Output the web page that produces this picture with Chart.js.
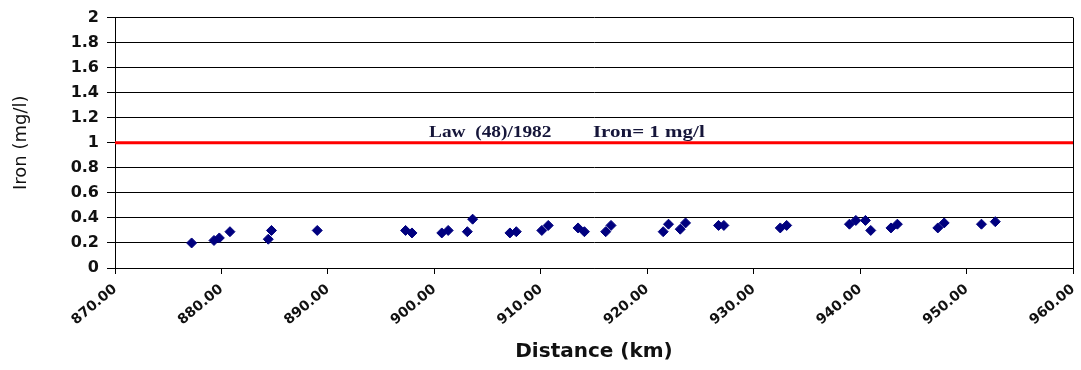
<!DOCTYPE html>
<html>
<head>
<meta charset="utf-8">
<script src="https://cdn.jsdelivr.net/npm/chart.js@4.4.1/dist/chart.umd.min.js"></script>
<style>
html,body{margin:0;padding:0;background:#fff;}
#wrap{width:1081px;height:370px;}
</style>
</head>
<body>
<div id="wrap"><canvas id="c" width="1081" height="370"></canvas></div>
<script>
// Data
const distanceKm = [877.2, 879.3, 879.8, 880.8, 884.4, 884.7, 889.0,
  897.3, 897.9, 900.7, 901.3, 903.1, 903.6, 907.1, 907.7, 910.1, 910.7,
  913.5, 914.1, 916.1, 916.6, 921.5, 922.0, 923.1, 923.6, 926.7, 927.2,
  932.5, 933.1, 939.0, 939.6, 940.5, 941.0, 942.9, 943.5, 947.3, 947.9,
  951.4, 952.7];
const ironMgL = [0.20, 0.22, 0.24, 0.29, 0.23, 0.30, 0.30,
  0.30, 0.28, 0.28, 0.30, 0.29, 0.39, 0.28, 0.29, 0.30, 0.34,
  0.32, 0.29, 0.29, 0.34, 0.29, 0.35, 0.31, 0.36, 0.34, 0.34,
  0.32, 0.34, 0.35, 0.38, 0.38, 0.30, 0.32, 0.35, 0.32, 0.36,
  0.35, 0.37];
const limitX = [870, 960];
const limitIron = 1;
const limitLabelLeft = "Law  (48)/1982";
const limitLabelRight = "Iron= 1 mg/l";
const xMin = 870, xMax = 960, xStep = 10;
const yMin = 0, yMax = 2, yStep = 0.2;

const points = distanceKm.map((d, i) => ({x: d, y: ironMgL[i]}));
const limitLine = limitX.map(x => ({x: x, y: limitIron}));

const extras = {
  id: 'extras',
  afterDatasetsDraw(chart) {
    const {ctx, chartArea, scales} = chart;
    ctx.save();
    // right border
    ctx.strokeStyle = '#000';
    ctx.lineWidth = 1;
    ctx.beginPath();
    ctx.moveTo(Math.round(chartArea.right) + 0.5, chartArea.top);
    ctx.lineTo(Math.round(chartArea.right) + 0.5, chartArea.bottom);
    ctx.stroke();
    // annotation text
    ctx.fillStyle = '#16163a';
    ctx.font = 'bold 17px "Liberation Serif", "Times New Roman", serif';
    ctx.textAlign = 'left';
    ctx.textBaseline = 'alphabetic';
    const yb = scales.y.getPixelForValue(limitIron) - 6;
    const drawFit = (txt, x0, x1) => {
      const w = ctx.measureText(txt).width;
      const sx = (x1 - x0) / w;
      ctx.save();
      ctx.translate(x0, yb);
      ctx.scale(sx, 1);
      ctx.fillText(txt, 0, 0);
      ctx.restore();
    };
    drawFit(limitLabelLeft, scales.x.getPixelForValue(899.5), scales.x.getPixelForValue(911.0));
    drawFit(limitLabelRight, scales.x.getPixelForValue(914.9), scales.x.getPixelForValue(925.4));
    ctx.restore();
  }
};

const tickFont = '"DejaVu Sans", Verdana, sans-serif';

new Chart(document.getElementById('c'), {
  type: 'scatter',
  data: {
    datasets: [
      {
        label: 'Iron',
        data: points,
        pointStyle: 'rectRot',
        pointRadius: 5,
        pointHoverRadius: 5,
        backgroundColor: '#00007f',
        borderColor: '#00007f',
        borderWidth: 1,
        order: 1
      },
      {
        label: 'Limit',
        type: 'line',
        data: limitLine,
        borderColor: '#ff0000',
        borderWidth: 3,
        pointRadius: 0,
        fill: false,
        order: 2
      }
    ]
  },
  options: {
    responsive: false,
    animation: false,
    devicePixelRatio: 1,
    layout: {padding: {top: 16, right: 8, bottom: 0, left: 0}},
    plugins: {legend: {display: false}, tooltip: {enabled: false}},
    scales: {
      x: {
        type: 'linear',
        min: xMin, max: xMax,
        afterFit(s) { s.height = 102; s.paddingRight = 8; s.paddingLeft = 0; },
        ticks: {
          stepSize: xStep,
          minRotation: 40, maxRotation: 40,
          autoSkip: false,
          padding: 7,
          color: '#111',
          font: {family: tickFont, size: 14, weight: 'bold'},
          callback: v => Number(v).toFixed(2)
        },
        grid: {drawOnChartArea: false, drawTicks: true, tickLength: 6, tickColor: '#000'},
        border: {display: true, color: '#000', width: 1},
        title: {
          display: true, text: 'Distance (km)', color: '#111',
          font: {family: tickFont, size: 20, weight: 'bold'},
          padding: {top: 0, bottom: 6}
        }
      },
      y: {
        min: yMin, max: yMax,
        afterFit(s) { s.width = 115; },
        ticks: {
          stepSize: yStep,
          padding: 8,
          color: '#111',
          font: {family: tickFont, size: 16, weight: 'bold'},
          callback: v => String(Math.round(v * 10) / 10)
        },
        grid: {color: '#000', lineWidth: 1, drawTicks: true, tickLength: 8, tickColor: '#000'},
        border: {display: true, color: '#000', width: 1},
        title: {
          display: true, text: 'Iron (mg/l)', color: '#111',
          font: {family: tickFont, size: 18, weight: 'normal'},
          padding: {top: 11, bottom: 0}
        }
      }
    }
  },
  plugins: [extras]
});
</script>
</body>
</html>
